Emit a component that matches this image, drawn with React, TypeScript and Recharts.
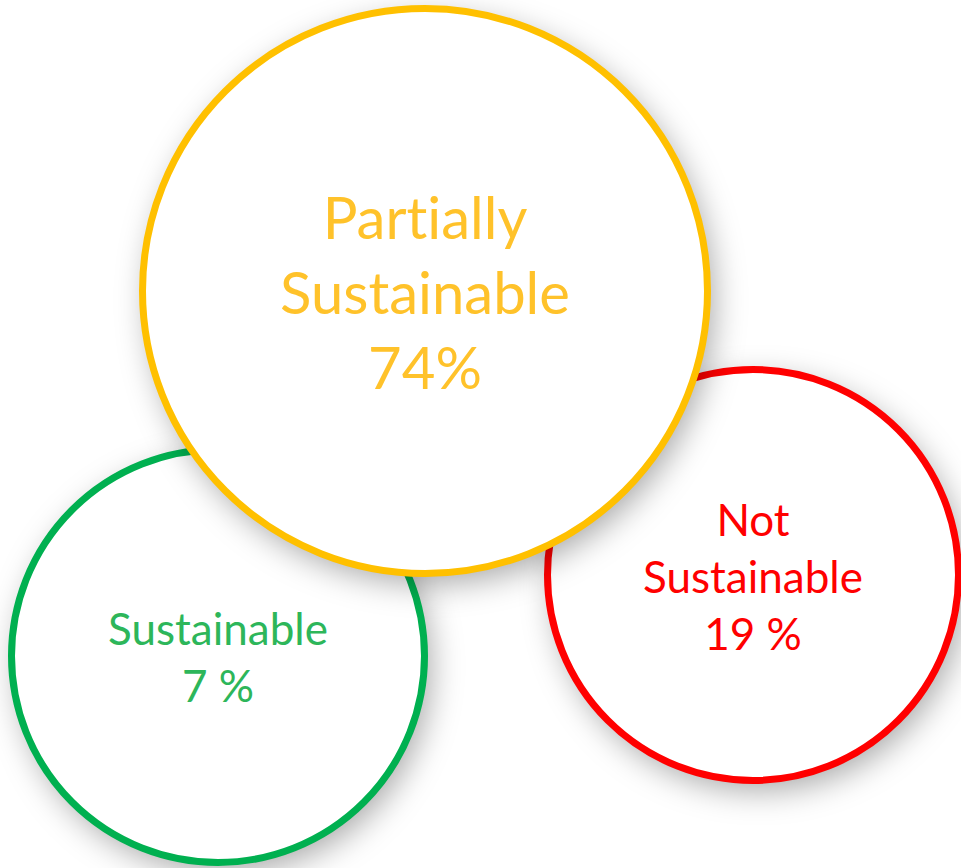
import { ScatterChart, Scatter, XAxis, YAxis, ZAxis } from "recharts";

// bubble categories, in drawing order (last one is on top)
const categories = ["Sustainable", "Not Sustainable", "Partially Sustainable"];
const labelLines = [["Sustainable"], ["Not", "Sustainable"], ["Partially", "Sustainable"]];
const shares = [7, 19, 74];
const shareText = ["7 %", "19 %", "74%"];

// bubble placement (chart units) and radius (chart units)
const bubbleX = [218, 753, 425];
const bubbleY = [656, 575, 291];
const bubbleRadius = [210, 209, 286];

const ringColors = ["#00B050", "#FF0000", "#FFC000"];
const textColors = ["#2DB65A", "#FF0000", "#FFC22A"];
const fontSizes = [44, 44, 58];
const lineHeights = [57, 57, 75];

const W = 961;
const H = 868;
const maxR = Math.max(...bubbleRadius);

const data = categories.map((name, i) => ({
  name,
  share: shares[i],
  x: bubbleX[i],
  y: bubbleY[i],
  z: bubbleRadius[i] * bubbleRadius[i],
  idx: i,
}));

const Bubble = (props: any) => {
  const { cx, cy, width, payload } = props;
  const i = payload.idx;
  const r = width / 2;
  const fs = fontSizes[i];
  const lh = lineHeights[i];
  const lines = [...labelLines[i], shareText[i]];
  const top = cy - ((lines.length - 1) * lh) / 2 + fs * 0.34 + 3;
  const fid = `shadow-${i}`;
  return (
    <g>
      <defs>
        <filter id={fid} x="-30%" y="-30%" width="160%" height="160%">
          <feDropShadow dx="6" dy="10" stdDeviation="16" floodColor="#000" floodOpacity="0.34" />
        </filter>
      </defs>
      <circle cx={cx} cy={cy} r={r - 3.5} fill="#fff" filter={`url(#${fid})`} />
      <circle cx={cx} cy={cy} r={r - 3.5} fill="#fff" stroke={ringColors[i]} strokeWidth={7} />
      <text
        textAnchor="middle"
        fontFamily="Lato, 'Open Sans', sans-serif"
        fontSize={fs}
        fill={textColors[i]}
        style={{ fontVariantLigatures: "none" }}
      >
        {lines.map((l, k) => (
          <tspan key={k} x={cx} y={top + k * lh}>
            {l}
          </tspan>
        ))}
      </text>
    </g>
  );
};

export default function App() {
  return (
    <div style={{ position: "absolute", left: 0, top: 0, width: W, height: H, background: "#fff" }}>
      <ScatterChart width={W} height={H} margin={{ top: 0, right: 0, bottom: 0, left: 0 }}>
        <XAxis type="number" dataKey="x" domain={[0, W]} hide />
        <YAxis type="number" dataKey="y" domain={[0, H]} reversed hide />
        <ZAxis type="number" dataKey="z" domain={[0, maxR * maxR]} range={[0, Math.PI * maxR * maxR]} />
        <Scatter data={data} shape={Bubble} isAnimationActive={false} />
      </ScatterChart>
    </div>
  );
}
